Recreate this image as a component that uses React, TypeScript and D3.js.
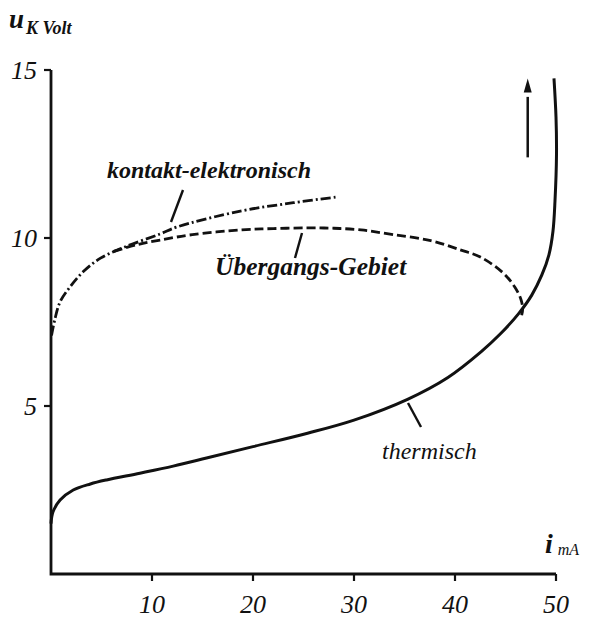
import React, { useEffect, useRef } from 'react';
import * as d3 from 'd3';

type Pt = [number, number];

// i (mA), u (Volt)
const thermisch: Pt[] = [
  [0, 1.5], [0.2, 1.85], [0.9, 2.2], [2.2, 2.5], [3.9, 2.68], [5.5, 2.8], [8.8, 3.0],
  [12.1, 3.21], [15.4, 3.45], [20, 3.79], [25.4, 4.19], [30, 4.58], [35.3, 5.2],
  [39.3, 5.85], [42.6, 6.62], [44.5, 7.15], [46.3, 7.75], [47.6, 8.3], [48.6, 8.9],
  [49.3, 9.5], [49.7, 10.2], [49.9, 11.1], [50.05, 12.5], [50.0, 13.6], [49.8, 14.75],
];

const kontakt: Pt[] = [
  [0.05, 7.1], [0.4, 7.6], [0.9, 8.1], [1.9, 8.55], [3.2, 9.0], [4.9, 9.4],
  [7.2, 9.72], [10.8, 10.12], [12.5, 10.33], [18.75, 10.8], [24, 11.05], [28.3, 11.22],
];

const uebergang: Pt[] = [
  [6.2, 9.6], [8.5, 9.8], [10.8, 9.94], [14, 10.1], [18.75, 10.24], [22, 10.28],
  [25.4, 10.3], [28, 10.29], [30.7, 10.24], [33.9, 10.1], [37.6, 9.92], [40.6, 9.64],
  [42.6, 9.42], [44.8, 8.95], [45.9, 8.55], [46.5, 8.2], [46.7, 7.9], [46.6, 7.7],
];

const xTicks = [10, 20, 30, 40, 50];
const yTicks = [5, 10, 15];

const W = 589;
const H = 618;
const serif = '"Liberation Serif", "Times New Roman", serif';

export default function App() {
  const svgRef = useRef<SVGSVGElement>(null);

  useEffect(() => {
    if (!svgRef.current) return;
    const svg = d3.select(svgRef.current);
    svg.selectAll('*').remove();

    const x = d3.scaleLinear().domain([0, 50]).range([51, 556]);
    const y = d3.scaleLinear().domain([0, 15]).range([574, 70]);
    const ink = '#111';

    // Axes
    svg.append('path')
      .attr('d', `M${x(0)},${y(15)}V${y(0)}H${x(50)}`)
      .attr('fill', 'none')
      .attr('stroke', ink)
      .attr('stroke-width', 2.8);

    yTicks.forEach(t => {
      svg.append('line')
        .attr('x1', x(0) - 7).attr('x2', x(0))
        .attr('y1', y(t)).attr('y2', y(t))
        .attr('stroke', ink).attr('stroke-width', 2.2);
      svg.append('text')
        .attr('x', 37).attr('y', y(t) + 9)
        .attr('text-anchor', 'end')
        .attr('font-family', serif).attr('font-style', 'italic')
        .attr('font-size', 26).attr('fill', ink)
        .text(t);
    });

    xTicks.forEach(t => {
      svg.append('line')
        .attr('x1', x(t)).attr('x2', x(t))
        .attr('y1', y(0)).attr('y2', y(0) + 7)
        .attr('stroke', ink).attr('stroke-width', 2.2);
      svg.append('text')
        .attr('x', x(t)).attr('y', 613)
        .attr('text-anchor', 'middle')
        .attr('font-family', serif).attr('font-style', 'italic')
        .attr('font-size', 26).attr('fill', ink)
        .text(t);
    });

    // Axis titles
    const uLab = svg.append('text')
      .attr('x', 9).attr('y', 28)
      .attr('font-family', serif).attr('font-style', 'italic').attr('font-weight', 'bold')
      .attr('fill', ink);
    uLab.append('tspan').attr('font-size', 27).text('u');
    uLab.append('tspan').attr('font-size', 18).attr('dy', 6).attr('dx', 2).text('K Volt');

    const iLab = svg.append('text')
      .attr('x', 545).attr('y', 553)
      .attr('font-family', serif).attr('font-style', 'italic')
      .attr('fill', ink);
    iLab.append('tspan').attr('font-size', 28).attr('font-weight', 'bold').text('i');
    iLab.append('tspan').attr('font-size', 16).attr('dy', 2).attr('dx', 5).text('mA');

    // Curves
    const line = d3.line<Pt>()
      .x(d => x(d[0]))
      .y(d => y(d[1]))
      .curve(d3.curveCatmullRom.alpha(0.5));

    svg.append('path')
      .datum(uebergang)
      .attr('fill', 'none')
      .attr('stroke', ink)
      .attr('stroke-width', 2.8)
      .attr('stroke-dasharray', '9,4')
      .attr('d', line);

    svg.append('path')
      .datum(kontakt)
      .attr('fill', 'none')
      .attr('stroke', ink)
      .attr('stroke-width', 2.8)
      .attr('stroke-dasharray', '10,3,2,3')
      .attr('d', line);

    svg.append('path')
      .datum(thermisch)
      .attr('fill', 'none')
      .attr('stroke', ink)
      .attr('stroke-width', 3)
      .attr('d', line);

    // Arrow
    svg.append('line')
      .attr('x1', x(47.2)).attr('x2', x(47.2))
      .attr('y1', y(12.4)).attr('y2', y(14.2))
      .attr('stroke', ink).attr('stroke-width', 2.5);
    svg.append('path')
      .attr('d', `M${x(47.2)},${y(14.75)}l-4,14h8z`)
      .attr('fill', ink);

    // Annotations with leader lines
    const notes = [
      { text: 'kontakt-elektronisch', tx: 107, ty: 178, bold: true, size: 24, lx1: 183, ly1: 190, lx2: 171, ly2: 222 },
      { text: 'Übergangs-Gebiet', tx: 215, ty: 275, bold: true, size: 25.5, lx1: 302, ly1: 233, lx2: 295, ly2: 258 },
      { text: 'thermisch', tx: 382, ty: 459, bold: false, size: 24, lx1: 408, ly1: 403, lx2: 421, ly2: 427 },
    ];
    notes.forEach(n => {
      svg.append('line')
        .attr('x1', n.lx1).attr('y1', n.ly1)
        .attr('x2', n.lx2).attr('y2', n.ly2)
        .attr('stroke', ink).attr('stroke-width', 2.4);
      svg.append('text')
        .attr('x', n.tx).attr('y', n.ty)
        .attr('font-family', serif).attr('font-style', 'italic')
        .attr('font-weight', n.bold ? 'bold' : 'normal')
        .attr('font-size', n.size).attr('fill', ink)
        .text(n.text);
    });
  }, []);

  return (
    <svg
      ref={svgRef}
      width={W}
      height={H}
      style={{ position: 'absolute', left: 0, top: 0, background: '#fff' }}
    />
  );
}
